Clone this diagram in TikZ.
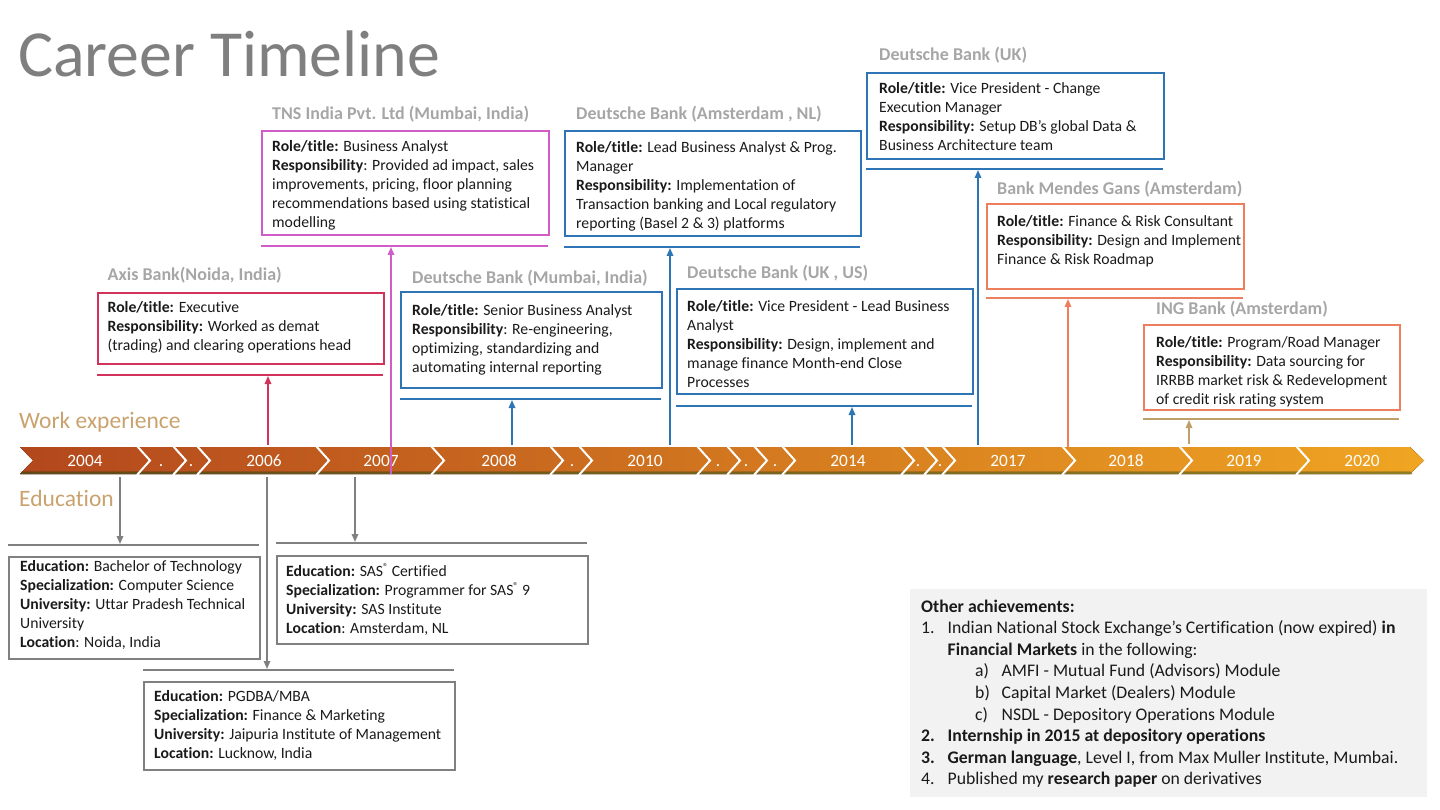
\documentclass[tikz,border=0pt]{standalone}
\usepackage{fontspec}
\setmainfont{Carlito}[Ligatures={NoCommon}]
\usetikzlibrary{arrows.meta}
\definecolor{ttl}{HTML}{7F7F7F}
\definecolor{hdr}{HTML}{A6A6A6}
\definecolor{axisc}{HTML}{D2335A}
\definecolor{tnsc}{HTML}{D05CC8}
\definecolor{dbc}{HTML}{2E75B6}
\definecolor{corc}{HTML}{EE7F5E}
\definecolor{tanc}{HTML}{BFA06A}
\definecolor{edc}{HTML}{808080}
\definecolor{secc}{HTML}{C9A26E}
\definecolor{barL}{HTML}{B3471D}
\definecolor{barR}{HTML}{F0A522}
\definecolor{oliveL}{HTML}{6E6A22}
\definecolor{oliveR}{HTML}{B0A832}
\definecolor{achbg}{HTML}{F2F2F2}
\definecolor{txtc}{HTML}{1A1A1A}
\newcommand{\regmark}{\raisebox{0.38em}{\fontsize{10}{10}\selectfont ®}}
\begin{document}
\begin{tikzpicture}[x=1pt,y=-1pt,
  hdrtxt/.style={anchor=base west, inner sep=0, text=hdr, font=\fontsize{18}{21}\selectfont\bfseries},
  boxtxt/.style={anchor=north west, inner sep=0, align=left, text=txtc, font=\fontsize{15.7}{19}\selectfont},
  frame/.style={draw=#1, line width=2pt, anchor=north west, inner sep=0},
  sepline/.style={draw=#1, line width=2pt},
  uparrow/.style={draw=#1, line width=1.6pt, -{Triangle[length=8pt,width=6.5pt]}},
  yr/.style={anchor=base, text=white, inner sep=0, font=\fontsize{17.3}{20}\selectfont},
  sectxt/.style={anchor=base west, inner sep=0, text=secc, font=\fontsize{23.5}{26}\selectfont},
]
\useasboundingbox (0,0) rectangle (1440,810);

% title
\node[anchor=base west, inner sep=0, text=ttl, font=\fontsize{65.8}{70}\selectfont] (title) at (18,77) {Career Timeline};

% section labels
\node[sectxt] (wexp) at (19,428.4) {Work experience};
\node[sectxt] (edu) at (19,506.4) {Education};

% timeline bar
\fill[left color=barL, right color=barR] (20,447) -- (1410,447) -- (1424,460.5) -- (1410,474) -- (20,474) -- (33,460.5) -- cycle;
\fill[left color=oliveL, right color=oliveR, opacity=0.55] (20,471.5) -- (1410,471.5) -- (1412.5,474) -- (20,474) -- (22.5,471.5) -- cycle;
\foreach \b in {137,173,197,316,431,550,579,697,727,754,782,901,924,942,1062,1179,1296}
  \draw[white, line width=2pt] (\b,446) -- (\b+13,460.5) -- (\b,475);

% year labels
\node[yr] (y2004) at (85,466.5) {2004};
\node[yr] (da) at (161,466.5) {.};
\node[yr] (db) at (191,466.5) {.};
\node[yr] (y2006) at (264,466.5) {2006};
\node[yr] (y2007) at (381,466.5) {2007};
\node[yr] (y2008) at (499,466.5) {2008};
\node[yr] (dc) at (572,466.5) {.};
\node[yr] (y2010) at (645,466.5) {2010};
\node[yr] (dd) at (718,466.5) {.};
\node[yr] (de) at (746,466.5) {.};
\node[yr] (df) at (775,466.5) {.};
\node[yr] (y2014) at (848,466.5) {2014};
\node[yr] (dg) at (918,466.5) {.};
\node[yr] (dh) at (940,466.5) {.};
\node[yr] (y2017) at (1008,466.5) {2017};
\node[yr] (y2018) at (1126,466.5) {2018};
\node[yr] (y2019) at (1244,466.5) {2019};
\node[yr] (y2020) at (1362,466.5) {2020};

% ---------- Work boxes ----------
% Axis Bank
\node[hdrtxt] (axish) at (107.5,280.5) {Axis Bank(Noida, India)};
\node[frame=axisc, minimum width=286pt, minimum height=71pt] (axisbox) at (97,292) {};
\node[boxtxt] (axist) at (107.5,301.5) {\textbf{Role/title:} Executive\\
\textbf{Responsibility:} Worked as demat\\
(trading) and clearing operations head};
\draw[sepline=axisc] (97,375) -- (383,375);
\coordinate (axisA) at (268,445);
\coordinate (axisT) at (268,376);
\draw[uparrow=axisc] (axisA) -- (axisT);

% TNS
\node[hdrtxt] (tnsh) at (272,119.8) {TNS India Pvt. Ltd (Mumbai, India)};
\node[frame=tnsc, minimum width=287pt, minimum height=104pt] (tnsbox) at (261,130) {};
\node[boxtxt] (tnst) at (272,140) {\textbf{Role/title:} Business Analyst\\
\textbf{Responsibility}: Provided ad impact, sales\\
improvements, pricing, floor planning\\
recommendations based using statistical\\
modelling};
\draw[sepline=tnsc] (261,246) -- (548,246);
\coordinate (tnsA) at (391,474);
\coordinate (tnsT) at (391,247);
\draw[uparrow=tnsc] (tnsA) -- (tnsT);

% DB Mumbai
\node[hdrtxt] (dbmh) at (412,283.5) {Deutsche Bank (Mumbai, India)};
\node[frame=dbc, minimum width=261pt, minimum height=96pt] (dbmbox) at (400,291) {};
\node[boxtxt] (dbmt) at (412,304) {\textbf{Role/title:} Senior Business Analyst\\
\textbf{Responsibility}: Re-engineering,\\
optimizing, standardizing and\\
automating internal reporting};
\draw[sepline=dbc] (400,399) -- (661,399);
\coordinate (dbmA) at (512,445);
\coordinate (dbmT) at (512,400);
\draw[uparrow=dbc] (dbmA) -- (dbmT);

% DB Amsterdam
\node[hdrtxt] (dbah) at (576,119.8) {Deutsche Bank (Amsterdam , NL)};
\node[frame=dbc, minimum width=296pt, minimum height=105pt] (dbabox) at (564,130) {};
\node[boxtxt] (dbat) at (576,141) {\textbf{Role/title:} Lead Business Analyst \& Prog.\\
Manager\\
\textbf{Responsibility:} Implementation of\\
Transaction banking and Local regulatory\\
reporting (Basel 2 \& 3) platforms};
\draw[sepline=dbc] (564,247) -- (860,247);
\coordinate (dbaA) at (670,445);
\coordinate (dbaT) at (670,248);
\draw[uparrow=dbc] (dbaA) -- (dbaT);

% DB UK
\node[hdrtxt] (dbukh) at (879,60.8) {Deutsche Bank (UK)};
\node[frame=dbc, minimum width=297pt, minimum height=86pt] (dbukbox) at (866,72) {};
\node[boxtxt] (dbukt) at (879,82) {\textbf{Role/title:} Vice President - Change\\
Execution Manager\\
\textbf{Responsibility:} Setup DB’s global Data \&\\
Business Architecture team};
\draw[sepline=dbc] (866,169) -- (1163,169);
\coordinate (dbukA) at (978,445);
\coordinate (dbukT) at (978,170);
\draw[uparrow=dbc] (dbukA) -- (dbukT);

% DB UK, US
\node[hdrtxt] (dbush) at (687,278.8) {Deutsche Bank (UK , US)};
\node[frame=dbc, minimum width=296pt, minimum height=105pt] (dbusbox) at (676,288) {};
\node[boxtxt] (dbust) at (687,300) {\textbf{Role/title:} Vice President - Lead Business\\
Analyst\\
\textbf{Responsibility:} Design, implement and\\
manage finance Month-end Close\\
Processes};
\draw[sepline=dbc] (676,406) -- (972,406);
\coordinate (dbusA) at (852,445);
\coordinate (dbusT) at (852,407);
\draw[uparrow=dbc] (dbusA) -- (dbusT);

% Bank Mendes Gans
\node[hdrtxt] (mgh) at (997,194.8) {Bank Mendes Gans (Amsterdam)};
\node[frame=corc, minimum width=257pt, minimum height=85pt] (mgbox) at (986,203) {};
\node[boxtxt] (mgt) at (997,215.5) {\textbf{Role/title:} Finance \& Risk Consultant\\
\textbf{Responsibility:} Design and Implement\\
Finance \& Risk Roadmap};
\draw[sepline=corc] (986,298) -- (1243,298);
\coordinate (mgA) at (1068,447);
\coordinate (mgT) at (1068,299);
\draw[uparrow=corc] (mgA) -- (mgT);

% ING
\node[hdrtxt] (ingh) at (1156,315) {ING Bank (Amsterdam)};
\node[frame=corc, minimum width=256pt, minimum height=85pt] (ingbox) at (1143,324) {};
\node[boxtxt] (ingt) at (1156,336) {\textbf{Role/title:} Program/Road Manager\\
\textbf{Responsibility:} Data sourcing for\\
IRRBB market risk \& Redevelopment\\
of credit risk rating system};
\draw[sepline=tanc] (1143,419) -- (1399,419);
\coordinate (ingA) at (1189,444);
\coordinate (ingT) at (1189,420);
\draw[uparrow=tanc] (ingA) -- (ingT);

% ---------- Education ----------
\node[frame=edc, minimum width=251pt, minimum height=102pt] (btbox) at (8,556) {};
\node[boxtxt] (btt) at (20,560) {\textbf{Education:} Bachelor of Technology\\
\textbf{Specialization:} Computer Science\\
\textbf{University:} Uttar Pradesh Technical\\
University\\
\textbf{Location}: Noida, India};
\draw[sepline=edc] (8,545) -- (259,545);
\coordinate (btA) at (120,477);
\coordinate (btT) at (120,544);
\draw[uparrow=edc] (btA) -- (btT);

\node[frame=edc, minimum width=311pt, minimum height=88pt] (sasbox) at (276,555) {};
\node[boxtxt] (sast) at (286,563) {\textbf{Education:} SAS\regmark{} Certified\\
\textbf{Specialization:} Programmer for SAS\regmark{} 9\\
\textbf{University:} SAS Institute\\
\textbf{Location}: Amsterdam, NL};
\draw[sepline=edc] (276,543) -- (587,543);
\coordinate (sasA) at (355,477);
\coordinate (sasT) at (355,542);
\draw[uparrow=edc] (sasA) -- (sasT);

\node[frame=edc, minimum width=311pt, minimum height=88pt] (pgbox) at (143,681) {};
\node[boxtxt] (pgt) at (154,690) {\textbf{Education:} PGDBA/MBA\\
\textbf{Specialization:} Finance \& Marketing\\
\textbf{University:} Jaipuria Institute of Management\\
\textbf{Location:} Lucknow, India};
\draw[sepline=edc] (143,670) -- (454,670);
\coordinate (pgA) at (267,477);
\coordinate (pgT) at (267,669);
\draw[uparrow=edc] (pgA) -- (pgT);

% ---------- Other achievements ----------
\node[fill=achbg, anchor=north west, inner sep=0, minimum width=517pt, minimum height=208pt] (achbox) at (910,589) {};
\node[anchor=north west, inner sep=0, align=left, text=txtc, font=\fontsize{17.7}{21.6}\selectfont] (acht) at (921,599.5) {\textbf{Other achievements:}\\
\makebox[26.5pt][l]{1.}Indian National Stock Exchange's Certification (now expired) \textbf{in}\\
\hspace*{26.5pt}\textbf{Financial Markets} in the following:\\
\hspace*{54pt}\makebox[26.5pt][l]{a)}AMFI - Mutual Fund (Advisors) Module\\
\hspace*{54pt}\makebox[26.5pt][l]{b)}Capital Market (Dealers) Module\\
\hspace*{54pt}\makebox[26.5pt][l]{c)}NSDL - Depository Operations Module\\
\makebox[26.5pt][l]{\textbf{2.}}\textbf{Internship in 2015 at depository operations}\\
\makebox[26.5pt][l]{\textbf{3.}}\textbf{German language}, Level I, from Max Muller Institute, Mumbai.\\
\makebox[26.5pt][l]{4.}Published my \textbf{research paper} on derivatives};
\end{tikzpicture}
\end{document}
